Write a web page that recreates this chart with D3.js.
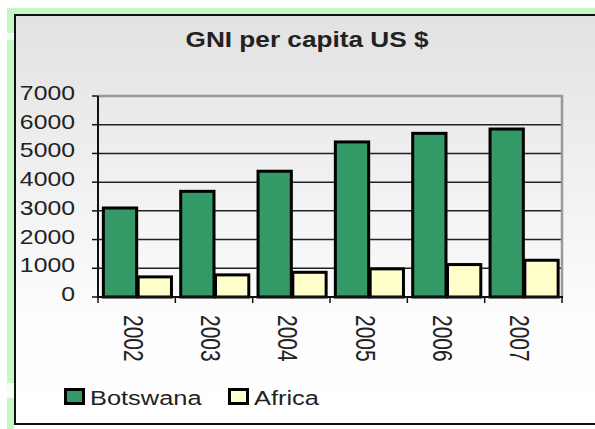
<!DOCTYPE html>
<html>
<head>
<meta charset="utf-8">
<script src="https://cdn.jsdelivr.net/npm/d3@7"></script>
<style>
  html, body { margin: 0; padding: 0; background: #fff; }
  svg { display: block; }
  text { font-family: "Liberation Sans", Arial, sans-serif; fill: #222; }
</style>
</head>
<body>
<div id="chart"></div>
<script>
// data
var years = ['2002', '2003', '2004', '2005', '2006', '2007'];
var botswana = [3100, 3680, 4380, 5400, 5700, 5850];
var africa = [700, 770, 860, 980, 1130, 1280];
var seriesNames = ['Botswana', 'Africa'];
var seriesColors = ['#339966', '#ffffcc'];
var yTicks = [0, 1000, 2000, 3000, 4000, 5000, 6000, 7000];

var width = 595, height = 429;
var plot = {left: 98, right: 562, top: 96, bottom: 297};

var svg = d3.select('#chart').append('svg')
    .attr('width', width)
    .attr('height', height);

var defs = svg.append('defs');
var bg = defs.append('linearGradient')
    .attr('id', 'bgGrad')
    .attr('x1', 0).attr('y1', 0).attr('x2', 0).attr('y2', 1);
bg.append('stop').attr('offset', '0%').attr('stop-color', '#e2e2e2');
bg.append('stop').attr('offset', '75%').attr('stop-color', '#fdfdfd');
bg.append('stop').attr('offset', '100%').attr('stop-color', '#ffffff');

// light green page border
svg.append('rect').attr('x', 7).attr('y', 8).attr('width', width).attr('height', 6).attr('fill', '#c6f7c6');
svg.append('rect').attr('x', 7).attr('y', 8).attr('width', 7).attr('height', height).attr('fill', '#c6f7c6');
[[33, 40], [383, 398]].forEach(function(g) {
  svg.append('rect').attr('x', 7).attr('y', g[0]).attr('width', 7).attr('height', g[1] - g[0]).attr('fill', '#f4fff4');
});

// chart frame
svg.append('rect')
    .attr('x', 15).attr('y', 15)
    .attr('width', width).attr('height', 409)
    .attr('fill', 'url(#bgGrad)')
    .attr('stroke', '#111')
    .attr('stroke-width', 2);

// helper: text stretched horizontally like the original
function stretched(g, x, y, str, opts) {
  var t = g.append('text')
      .attr('transform', 'translate(' + x + ',' + y + ') scale(' + opts.sx + ',1)' + (opts.rotate ? ' rotate(' + opts.rotate + ')' : ''))
      .attr('text-anchor', opts.anchor || 'start')
      .style('font-size', opts.size + 'px')
      .style('font-weight', opts.weight || 'normal')
      .text(str);
  return t;
}

// title
stretched(svg, 307, 47, 'GNI per capita US $', {sx: 1.19, size: 22, weight: 'bold', anchor: 'middle'});

var x0 = d3.scaleBand().domain(years).range([plot.left, plot.right]).paddingInner(0.1).paddingOuter(0.05);
var x1 = d3.scaleBand().domain(seriesNames).range([0, x0.bandwidth()]);
var y = d3.scaleLinear().domain([0, 7000]).range([plot.bottom, plot.top]);

// gridlines
svg.append('g').selectAll('line')
    .data(yTicks.filter(function(d) { return d > 0 && d < 7000; }))
    .enter().append('line')
    .attr('x1', plot.left).attr('x2', plot.right)
    .attr('y1', function(d) { return y(d); })
    .attr('y2', function(d) { return y(d); })
    .attr('stroke', '#222')
    .attr('stroke-width', 1.5);

// plot border top/right (gray)
svg.append('path')
    .attr('d', 'M' + plot.left + ',' + y(7000) + 'H' + plot.right + 'V' + plot.bottom)
    .attr('fill', 'none')
    .attr('stroke', '#999')
    .attr('stroke-width', 2.5);

// bars
var rows = years.map(function(yr, i) {
  return {year: yr, values: [botswana[i], africa[i]]};
});
var groups = svg.append('g').selectAll('g')
    .data(rows).enter().append('g')
    .attr('transform', function(d) { return 'translate(' + x0(d.year) + ',0)'; });
groups.selectAll('rect')
    .data(function(d) { return d.values.map(function(v, j) { return {name: seriesNames[j], value: v, color: seriesColors[j]}; }); })
    .enter().append('rect')
    .attr('x', function(d) { return x1(d.name) + 1.5; })
    .attr('width', x1.bandwidth() - 1.5)
    .attr('y', function(d) { return y(d.value); })
    .attr('height', function(d) { return plot.bottom - y(d.value); })
    .attr('fill', function(d) { return d.color; })
    .attr('stroke', '#000')
    .attr('stroke-width', 3);

// axes
svg.append('line')
    .attr('x1', plot.left).attr('x2', plot.left)
    .attr('y1', y(7000)).attr('y2', plot.bottom + 1)
    .attr('stroke', '#111').attr('stroke-width', 2);
svg.append('line')
    .attr('x1', plot.left - 1).attr('x2', plot.right + 1)
    .attr('y1', plot.bottom).attr('y2', plot.bottom)
    .attr('stroke', '#111').attr('stroke-width', 2);

var yAxis = svg.append('g');
yTicks.forEach(function(v) {
  yAxis.append('line')
      .attr('x1', plot.left - 6).attr('x2', plot.left)
      .attr('y1', y(v)).attr('y2', y(v))
      .attr('stroke', '#111').attr('stroke-width', 1.5);
  stretched(yAxis, 75, y(v) + 4, String(v), {sx: 1.24, size: 20, anchor: 'end'});
});

var catEdges = years.map(function(yr) { return x0(yr) - x0.step() * x0.paddingInner() / 2; }).concat([plot.right]);
catEdges[0] = plot.left;
var xAxis = svg.append('g');
catEdges.forEach(function(cx) {
  xAxis.append('line')
      .attr('x1', cx).attr('x2', cx)
      .attr('y1', plot.bottom).attr('y2', plot.bottom + 6)
      .attr('stroke', '#111').attr('stroke-width', 1.5);
});
years.forEach(function(yr) {
  var cx = x0(yr) + x0.bandwidth() / 2;
  stretched(xAxis, cx - 13, 315, yr, {sx: 1.35, size: 21, rotate: 90});
});

// legend
var legend = svg.append('g');
var legendX = [64, 228];
seriesNames.forEach(function(name, i) {
  legend.append('rect')
      .attr('x', legendX[i] + 1.5).attr('y', 389.5)
      .attr('width', 18).attr('height', 14)
      .attr('fill', seriesColors[i])
      .attr('stroke', '#000').attr('stroke-width', 3);
  stretched(legend, legendX[i] + 26, 405, name, {sx: 1.27, size: 20});
});
</script>
</body>
</html>
